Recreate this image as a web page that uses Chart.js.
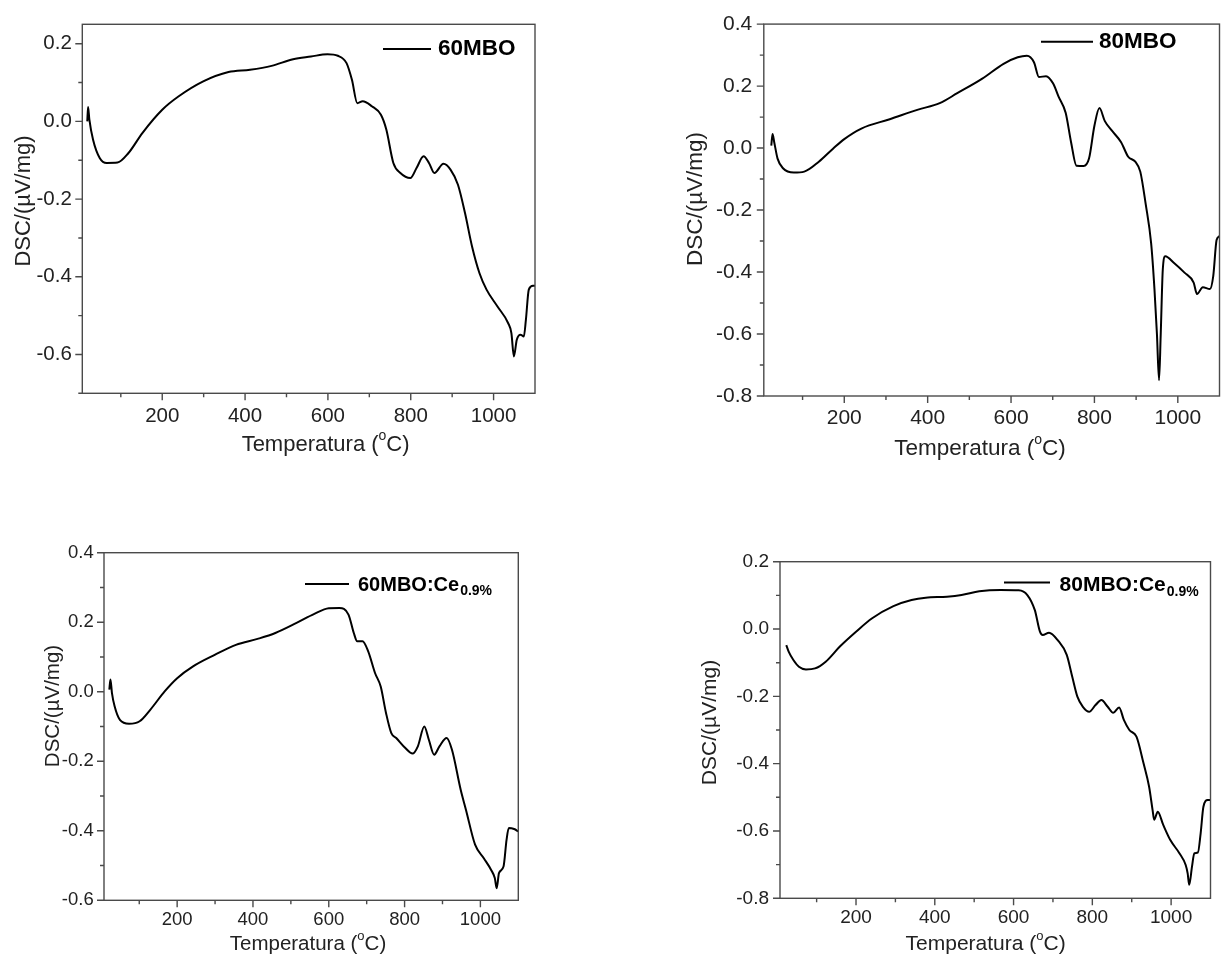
<!DOCTYPE html>
<html>
<head>
<meta charset="utf-8">
<script src="https://cdn.jsdelivr.net/npm/chart.js@4.4.1/dist/chart.umd.min.js"></script>
<style>
  body { margin: 0; background: #fff; width: 1222px; height: 955px; position: relative; overflow: hidden; }
  canvas { position: absolute; }
</style>
</head>
<body>
<canvas id="c1"></canvas>
<canvas id="c2"></canvas>
<canvas id="c3"></canvas>
<canvas id="c4"></canvas>
<script>
// --- data ---
const temp60 = [19, 21, 24, 33, 49, 66, 92, 118, 152, 200, 239, 299, 360, 412, 464, 516, 559, 599, 624, 645, 658, 671, 684, 706, 728, 741, 758, 775, 799, 814, 831, 844, 857, 879, 896, 914, 931, 948, 966, 983, 1009, 1035, 1043, 1049, 1056, 1065, 1073, 1078, 1085, 1095, 1100];
const dsc60 = [0.0, 0.037, 0.005, -0.047, -0.094, -0.107, -0.106, -0.082, -0.030, 0.030, 0.064, 0.103, 0.127, 0.133, 0.143, 0.160, 0.167, 0.173, 0.169, 0.150, 0.107, 0.047, 0.052, 0.039, 0.017, -0.021, -0.107, -0.133, -0.146, -0.120, -0.090, -0.107, -0.133, -0.109, -0.124, -0.163, -0.236, -0.322, -0.391, -0.433, -0.476, -0.519, -0.545, -0.605, -0.562, -0.549, -0.554, -0.511, -0.433, -0.423, -0.423];

const temp80 = [25, 28, 32, 40, 53, 79, 104, 139, 173, 200, 241, 309, 377, 429, 471, 531, 582, 616, 638, 655, 667, 684, 701, 714, 731, 744, 757, 774, 787, 800, 812, 825, 842, 864, 881, 898, 910, 923, 936, 944, 950, 955, 959, 964, 970, 991, 1016, 1038, 1046, 1060, 1077, 1085, 1093, 1100];
const dsc80 = [0.008, 0.045, 0.019, -0.034, -0.065, -0.079, -0.076, -0.044, -0.002, 0.029, 0.063, 0.093, 0.124, 0.145, 0.177, 0.224, 0.272, 0.293, 0.298, 0.277, 0.229, 0.232, 0.208, 0.166, 0.114, 0.019, -0.057, -0.058, -0.034, 0.072, 0.129, 0.087, 0.056, 0.019, -0.028, -0.044, -0.076, -0.181, -0.307, -0.455, -0.602, -0.749, -0.602, -0.392, -0.349, -0.371, -0.402, -0.434, -0.471, -0.449, -0.455, -0.413, -0.297, -0.284];

const temp60Ce = [21, 24, 28, 35, 49, 73, 101, 129, 167, 200, 242, 299, 355, 412, 459, 515, 562, 600, 628, 652, 666, 675, 689, 704, 722, 737, 751, 765, 778, 802, 821, 835, 852, 864, 878, 892, 911, 925, 948, 962, 986, 1009, 1028, 1038, 1043, 1049, 1061, 1069, 1075, 1089, 1100];
const dsc60Ce = [0.006, 0.035, -0.004, -0.042, -0.081, -0.092, -0.085, -0.052, 0.001, 0.039, 0.073, 0.106, 0.135, 0.152, 0.169, 0.198, 0.224, 0.240, 0.241, 0.222, 0.169, 0.145, 0.145, 0.116, 0.054, 0.015, -0.061, -0.119, -0.133, -0.162, -0.178, -0.157, -0.100, -0.138, -0.181, -0.157, -0.133, -0.167, -0.282, -0.340, -0.440, -0.479, -0.512, -0.536, -0.565, -0.522, -0.503, -0.426, -0.392, -0.395, -0.402];

const temp80Ce = [23, 29, 41, 55, 73, 96, 123, 159, 200, 241, 295, 341, 377, 431, 468, 513, 567, 613, 635, 654, 667, 674, 690, 712, 735, 749, 762, 776, 792, 808, 823, 839, 853, 868, 880, 894, 912, 930, 944, 953, 957, 966, 980, 998, 1021, 1037, 1042, 1046, 1053, 1059, 1068, 1075, 1082, 1093, 1100];
const dsc80Ce = [-0.048, -0.067, -0.092, -0.112, -0.120, -0.117, -0.097, -0.052, -0.008, 0.032, 0.068, 0.086, 0.093, 0.096, 0.101, 0.112, 0.116, 0.115, 0.101, 0.056, -0.008, -0.018, -0.011, -0.033, -0.077, -0.142, -0.201, -0.231, -0.246, -0.226, -0.211, -0.231, -0.249, -0.233, -0.270, -0.300, -0.320, -0.399, -0.468, -0.538, -0.567, -0.543, -0.582, -0.627, -0.666, -0.701, -0.726, -0.760, -0.706, -0.666, -0.664, -0.607, -0.528, -0.508, -0.508];

const xTicks = [200, 400, 600, 800, 1000];
const xMinor = [100, 300, 500, 700, 900];
const yTicks60 = [-0.6, -0.4, -0.2, 0.0, 0.2];
const yTicks80 = [-0.8, -0.6, -0.4, -0.2, 0.0, 0.2, 0.4];
const yTicks60Ce = [-0.6, -0.4, -0.2, 0.0, 0.2, 0.4];
const yTicks80Ce = [-0.8, -0.6, -0.4, -0.2, 0.0, 0.2];
const yMinor60 = [-0.7, -0.5, -0.3, -0.1, 0.1];
const yMinor80 = [-0.7, -0.5, -0.3, -0.1, 0.1, 0.3];
const yMinor60Ce = [-0.5, -0.3, -0.1, 0.1, 0.3];
const yMinor80Ce = [-0.7, -0.5, -0.3, -0.1, 0.1];

const names = ['60MBO', '80MBO', '60MBO:Ce', '80MBO:Ce'];
const subs = ['', '', '0.9%', '0.9%'];
const xTitle = ['Temperatura (', 'o', 'C)'];
const yTitle = 'DSC/(\u00b5V/mg)';

const FONT = 'Arial, "Liberation Sans", sans-serif';

// --- layout of the four panels (page pixels) ---
const panels = [
  { id: 'c1', cx: 0, cy: 0, cw: 560, ch: 470, area: [82.3, 24.3, 535, 393.3],
    temps: temp60, vals: dsc60, yMin: -0.7, yMax: 0.25, yTicks: yTicks60, yMinor: yMinor60,
    tickFont: 20.5, titleFont: 22, xTitleAt: [325.6, 444.5], yTitleAt: [24, 201], xPad: 11, yPad: 10.5,
    leg: { x1: 383, x2: 431, y: 49, tx: 438, ty: 49, size: 22.5, sub: 14 }, k: 0 },
  { id: 'c2', cx: 660, cy: 0, cw: 562, ch: 470, area: [763.8, 15.7, 1219.5, 396],
    temps: temp80, vals: dsc80, yMin: -0.8, yMax: 0.4, yTicks: yTicks80, yMinor: yMinor80,
    tickFont: 21, titleFont: 22.5, xTitleAt: [980, 449], yTitleAt: [696, 199], xPad: 9.5, yPad: 11.5,
    leg: { x1: 1041, x2: 1093, y: 41.7, tx: 1099, ty: 42, size: 22.5, sub: 14 }, k: 1 },
  { id: 'c3', cx: 0, cy: 500, cw: 560, ch: 455, area: [104, 552.7, 518.3, 900.3],
    temps: temp60Ce, vals: dsc60Ce, yMin: -0.6, yMax: 0.4, yTicks: yTicks60Ce, yMinor: yMinor60Ce,
    tickFont: 18.5, titleFont: 20.5, xTitleAt: [308, 944], yTitleAt: [53.7, 706], xPad: 9, yPad: 10.3,
    leg: { x1: 305, x2: 349, y: 584, tx: 358, ty: 585, size: 20, sub: 14 }, k: 2 },
  { id: 'c4', cx: 660, cy: 500, cw: 562, ch: 455, area: [780, 561.7, 1210.5, 898.3],
    temps: temp80Ce, vals: dsc80Ce, yMin: -0.8, yMax: 0.2, yTicks: yTicks80Ce, yMinor: yMinor80Ce,
    tickFont: 19, titleFont: 21, xTitleAt: [985.6, 944], yTitleAt: [710, 722.5], xPad: 8.5, yPad: 11,
    leg: { x1: 1004, x2: 1050, y: 582.5, tx: 1059.6, ty: 585, size: 21, sub: 14 }, k: 3 }
];

// frame, ticks, titles and legend drawn on top of the chart
const decor = {
  id: 'decor',
  afterDraw(chart, args, opts) {
    const p = opts.panel;
    const ctx = chart.ctx;
    const a = chart.chartArea;
    const xs = chart.scales.x, ys = chart.scales.y;
    const ox = p.cx, oy = p.cy;
    ctx.save();
    ctx.strokeStyle = '#4a4a4a';
    ctx.lineWidth = 1.4;
    ctx.strokeRect(a.left, a.top, a.right - a.left, a.bottom - a.top);
    ctx.beginPath();
    xTicks.forEach(v => { const px = xs.getPixelForValue(v); ctx.moveTo(px, a.bottom); ctx.lineTo(px, a.bottom + 7); });
    xMinor.forEach(v => { const px = xs.getPixelForValue(v); ctx.moveTo(px, a.bottom); ctx.lineTo(px, a.bottom + 4); });
    p.yTicks.forEach(v => { const py = ys.getPixelForValue(v); ctx.moveTo(a.left, py); ctx.lineTo(a.left - 7, py); });
    p.yMinor.forEach(v => { const py = ys.getPixelForValue(v); ctx.moveTo(a.left, py); ctx.lineTo(a.left - 4, py); });
    ctx.stroke();

    // x title with superscript o
    ctx.fillStyle = '#222';
    ctx.textBaseline = 'middle';
    ctx.textAlign = 'left';
    const fs = p.titleFont;
    const big = fs + 'px ' + FONT, small = Math.round(fs * 0.62) + 'px ' + FONT;
    ctx.font = big;
    const w1 = ctx.measureText(xTitle[0]).width, w3 = ctx.measureText(xTitle[2]).width;
    ctx.font = small;
    const w2 = ctx.measureText(xTitle[1]).width;
    let tx = p.xTitleAt[0] - ox - (w1 + w2 + w3) / 2;
    const ty = p.xTitleAt[1] - oy;
    ctx.font = big; ctx.fillText(xTitle[0], tx, ty); tx += w1;
    ctx.font = small; ctx.fillText(xTitle[1], tx, ty - fs * 0.38); tx += w2;
    ctx.font = big; ctx.fillText(xTitle[2], tx, ty);

    // y title
    ctx.save();
    ctx.translate(p.yTitleAt[0] - ox, p.yTitleAt[1] - oy);
    ctx.rotate(-Math.PI / 2);
    ctx.textAlign = 'center';
    ctx.font = big;
    ctx.fillText(yTitle, 0, 0);
    ctx.restore();

    // legend
    const L = p.leg;
    ctx.strokeStyle = '#000';
    ctx.lineWidth = 2;
    ctx.beginPath();
    ctx.moveTo(L.x1 - ox, L.y - oy); ctx.lineTo(L.x2 - ox, L.y - oy);
    ctx.stroke();
    ctx.fillStyle = '#000';
    ctx.font = 'bold ' + L.size + 'px ' + FONT;
    ctx.fillText(names[p.k], L.tx - ox, L.ty - oy);
    if (subs[p.k]) {
      const wn = ctx.measureText(names[p.k]).width;
      ctx.font = 'bold ' + L.sub + 'px ' + FONT;
      ctx.fillText(subs[p.k], L.tx - ox + wn + 1, L.ty - oy + L.size * 0.33);
    }
    ctx.restore();
  }
};

panels.forEach(p => {
  const cv = document.getElementById(p.id);
  cv.width = p.cw; cv.height = p.ch;
  cv.style.left = p.cx + 'px'; cv.style.top = p.cy + 'px';
  cv.style.width = p.cw + 'px'; cv.style.height = p.ch + 'px';
  const [l, t, r, b] = p.area;
  const yW = l - p.cx, padTop = t - p.cy, padRight = p.cx + p.cw - r, xH = p.cy + p.ch - b;
  const points = p.temps.map((T, i) => ({ x: T, y: p.vals[i] }));

  new Chart(cv, {
    type: 'line',
    data: {
      datasets: [{
        data: points,
        borderColor: '#000',
        borderWidth: 2,
        pointRadius: 0,
        cubicInterpolationMode: 'monotone',
        fill: false
      }]
    },
    options: {
      responsive: false,
      animation: false,
      layout: { padding: { top: padTop, right: padRight, left: 0, bottom: 0 } },
      plugins: { legend: { display: false }, tooltip: { enabled: false }, decor: { panel: p } },
      scales: {
        x: {
          type: 'linear', min: 7, max: 1100,
          grid: { display: false, drawTicks: false, tickLength: 0 }, border: { display: false },
          ticks: { color: '#222', padding: p.xPad, maxRotation: 0, font: { family: FONT, size: p.tickFont },
                   callback: v => String(v) },
          afterBuildTicks: s => { s.ticks = xTicks.map(v => ({ value: v })); },
          afterFit: s => { s.height = xH; }
        },
        y: {
          type: 'linear', min: p.yMin, max: p.yMax,
          grid: { display: false, drawTicks: false, tickLength: 0 }, border: { display: false },
          ticks: { color: '#222', padding: p.yPad, font: { family: FONT, size: p.tickFont },
                   callback: v => v.toFixed(1) },
          afterBuildTicks: s => { s.ticks = p.yTicks.map(v => ({ value: v })); },
          afterFit: s => { s.width = yW; }
        }
      }
    },
    plugins: [decor]
  });
});
</script>
</body>
</html>
